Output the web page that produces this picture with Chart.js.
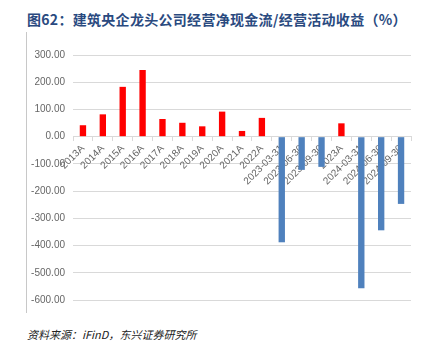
<!DOCTYPE html>
<html lang="zh">
<head>
  <meta charset="UTF-8">
  <title>建筑央企龙头公司经营净现金流/经营活动收益</title>
  <script src="https://cdn.jsdelivr.net/npm/chart.js"></script>
  <style>
    html, body { margin: 0; padding: 0; background: #fff; }
    body { width: 426px; height: 360px; position: relative; overflow: hidden; }
    .title { position: absolute; left: 27px; top: 9px; font: bold 14px "Noto Sans CJK SC", sans-serif; color: #2a4a7f; white-space: nowrap; letter-spacing: 0.3px; }
    .frame { position: absolute; left: 26px; top: 32px; height: 281px; border-left: 1px solid #c8c8c8; }
    .chart { position: absolute; left: 0; top: 40px; width: 426px; height: 280px; }
    .source { position: absolute; left: 27px; top: 326px; font: italic 11px "Noto Sans CJK SC", sans-serif; color: #222; white-space: nowrap; }
  </style>
</head>
<body>
  <div class="title">图62：建筑央企龙头公司经营净现金流/经营活动收益（%）</div>
  <div class="frame"></div>
  <div class="chart"><canvas id="cashChart"></canvas></div>
  <div class="source">资料来源：iFinD，东兴证券研究所</div>

  <script>
    const periods = ['2013A', '2014A', '2015A', '2016A', '2017A', '2018A', '2019A', '2020A', '2021A', '2022A',
      '2023-03-31', '2023-06-30', '2023-09-30', '2023A', '2024-03-31', '2024-06-30', '2024-09-30'];
    const ratio = [42, 82, 183, 245, 65, 51, 38, 92, 21, 69, -388, -122, -111, 49, -557, -344, -247];

    const red = '#ff0000';
    const blue = '#4f81bd';
    const gray = '#666666';

    new Chart(document.getElementById('cashChart'), {
      type: 'bar',
      data: {
        labels: periods,
        datasets: [{
          data: ratio,
          backgroundColor: ratio.map(v => v >= 0 ? red : blue),
          categoryPercentage: 1,
          barPercentage: 0.32
        }]
      },
      options: {
        responsive: true,
        maintainAspectRatio: false,
        animation: false,
        layout: { padding: { top: 15, bottom: 20, right: 15, left: 0 } },
        plugins: {
          legend: { display: false },
          tooltip: { enabled: false }
        },
        scales: {
          x: {
            position: { y: 0 },
            grid: { drawOnChartArea: false, drawTicks: true, tickLength: 4, color: '#d9d9d9', offset: true },
            border: { color: '#d9d9d9' },
            ticks: {
              color: gray,
              font: { family: 'Liberation Sans', size: 10 },
              minRotation: 45,
              maxRotation: 45,
              autoSkip: false,
              padding: 2
            }
          },
          y: {
            min: -600,
            max: 300,
            afterFit: s => { s.width = 73; },
            grid: { color: '#d9d9d9', drawTicks: false },
            border: { display: false },
            ticks: {
              stepSize: 100,
              color: gray,
              padding: 8,
              font: { family: 'Liberation Sans', size: 10 },
              callback: v => v.toFixed(2)
            }
          }
        }
      }
    });
  </script>
</body>
</html>
